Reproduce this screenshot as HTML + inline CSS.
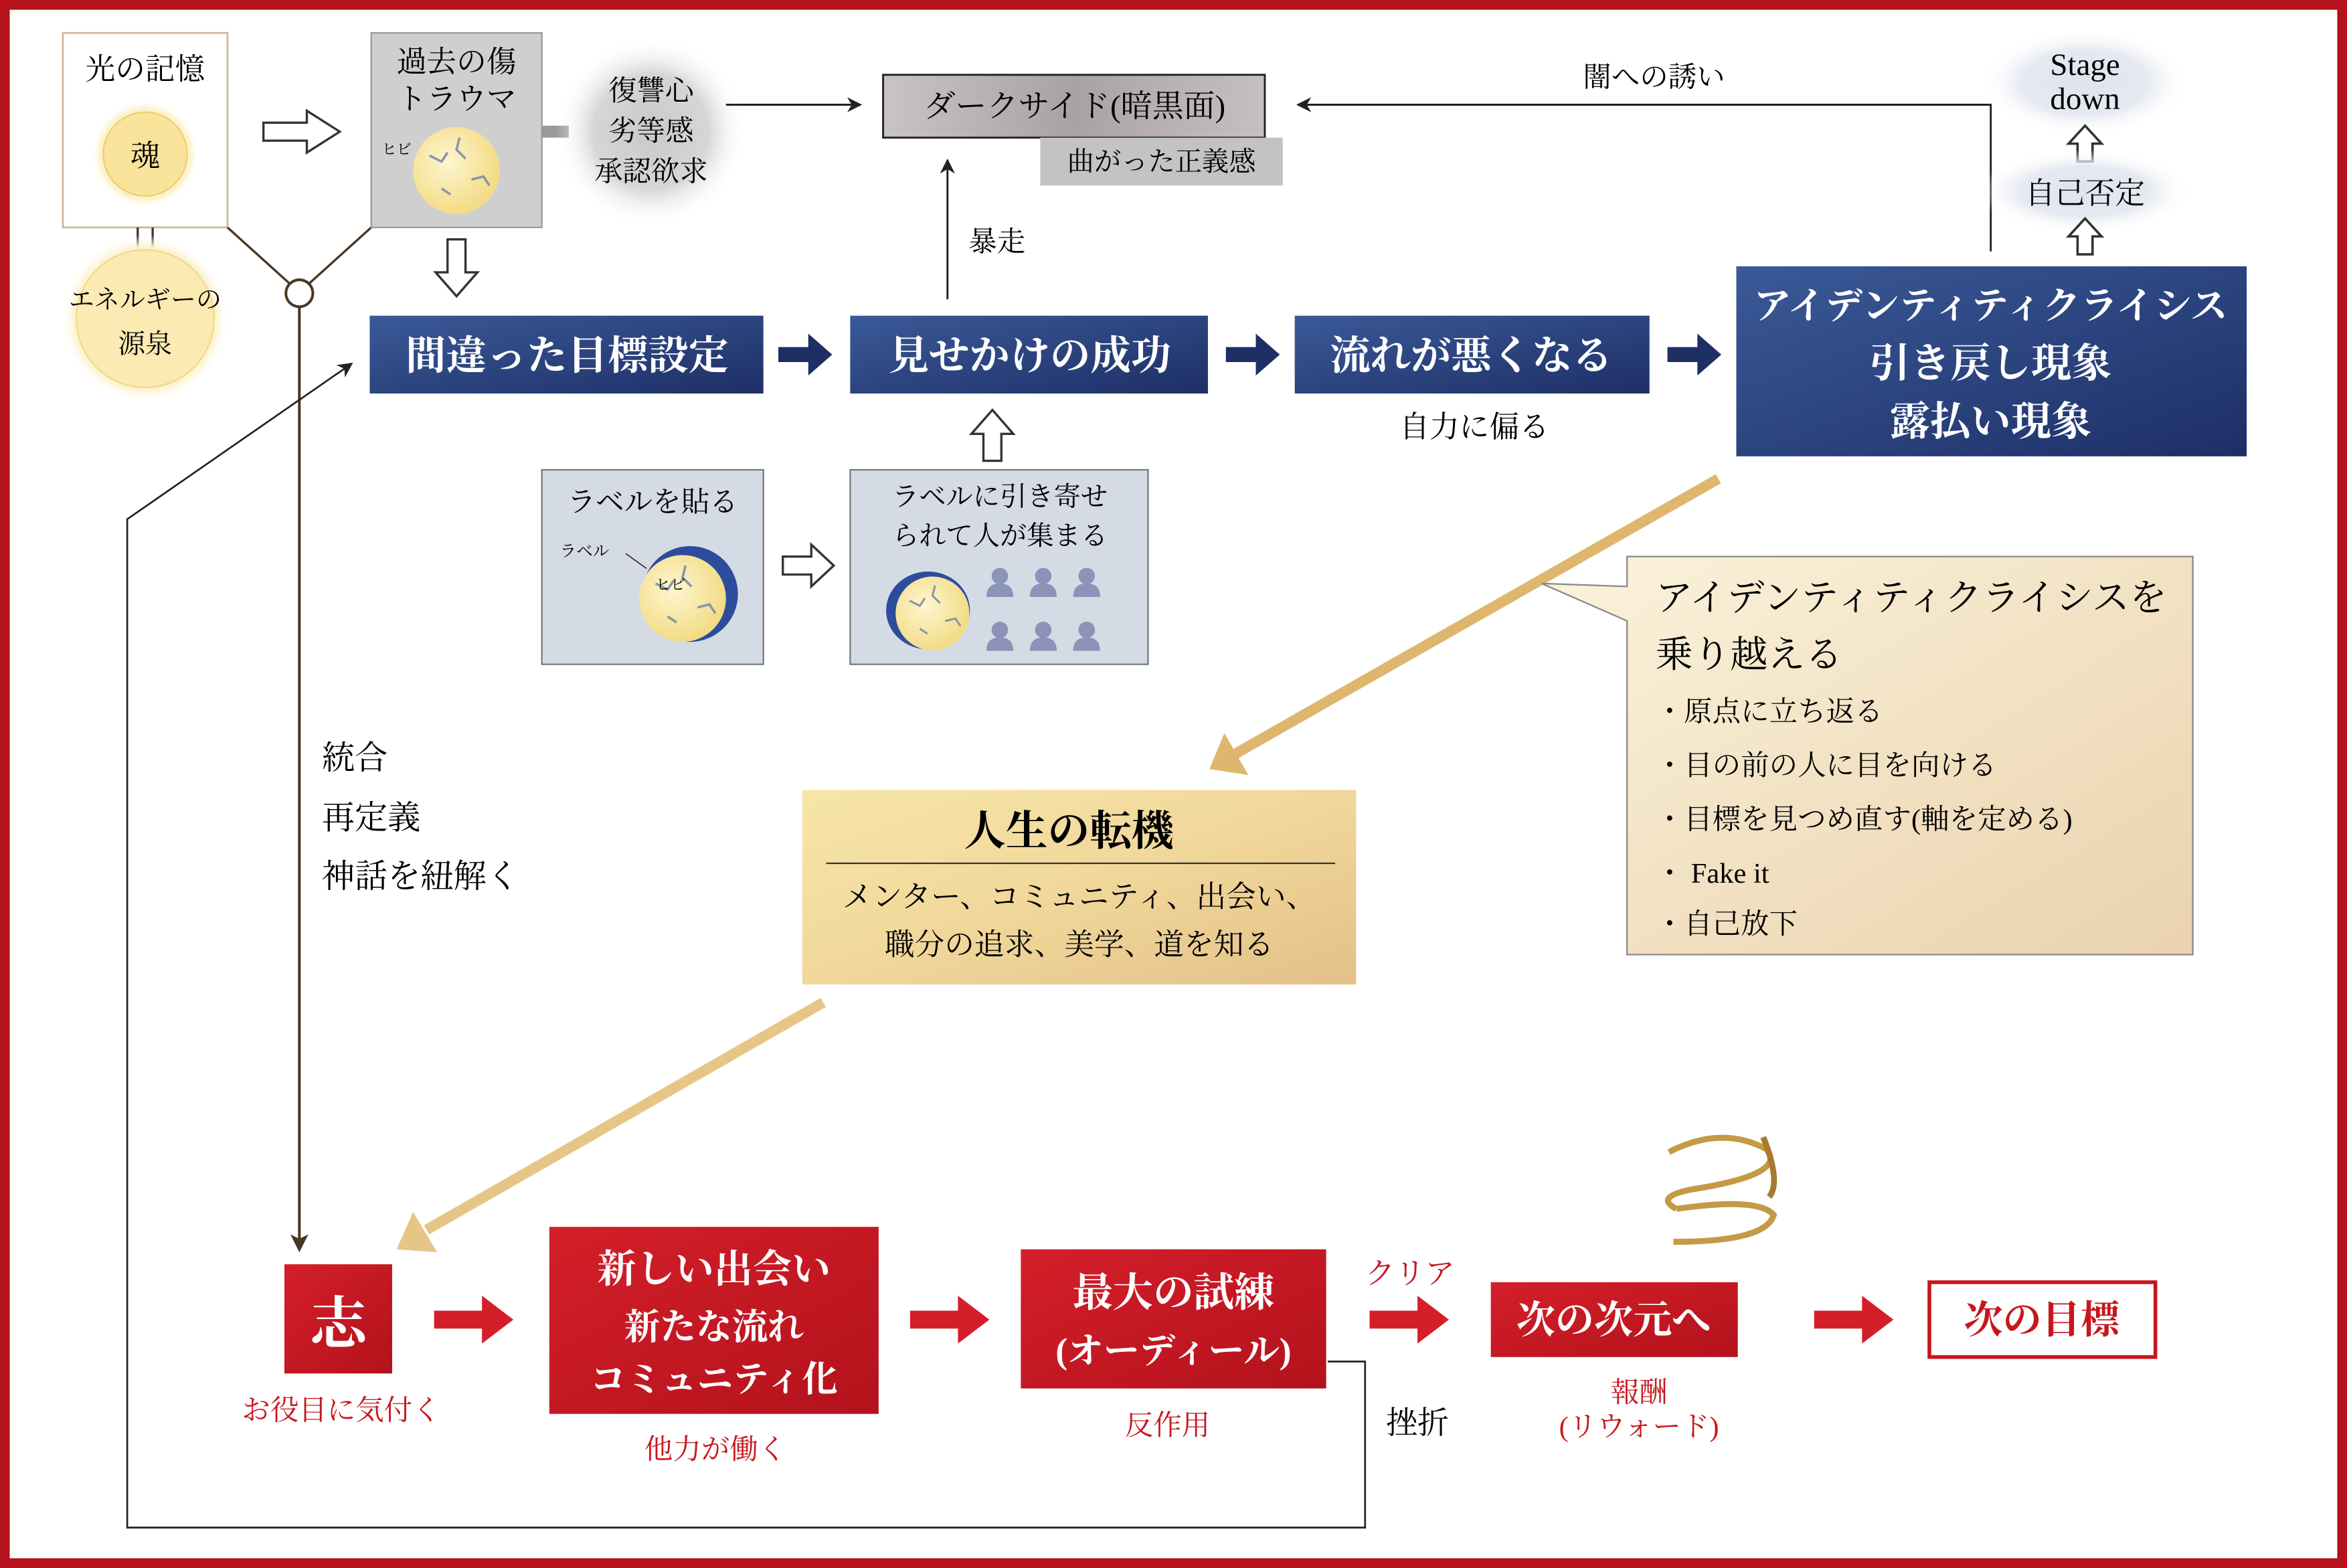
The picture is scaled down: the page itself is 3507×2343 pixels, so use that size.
<!DOCTYPE html>
<html><head><meta charset="utf-8">
<style>
html,body{margin:0;padding:0;background:#fff}
svg{display:block}
text{font-family:"Liberation Serif","Noto Serif CJK JP","Noto Serif CJK SC",serif}
</style></head><body>
<svg width="3507" height="2343" viewBox="0 0 1568 1048" preserveAspectRatio="none" xmlns="http://www.w3.org/2000/svg">
<defs>
<radialGradient id="glow" cx="50%" cy="50%" r="50%">
<stop offset="0" stop-color="#fbe9a8"/><stop offset="0.6" stop-color="#fbeab0"/><stop offset="0.85" stop-color="#fdf3d0"/><stop offset="1" stop-color="#fff" stop-opacity="0"/></radialGradient>
<radialGradient id="cloud" cx="50%" cy="50%" r="50%">
<stop offset="0" stop-color="#c9c9c9"/><stop offset="0.6" stop-color="#d6d6d6"/><stop offset="1" stop-color="#fff" stop-opacity="0"/></radialGradient>
<radialGradient id="cloudb" cx="50%" cy="50%" r="50%">
<stop offset="0" stop-color="#dfe3ee"/><stop offset="0.6" stop-color="#e6e9f1"/><stop offset="1" stop-color="#fff" stop-opacity="0"/></radialGradient>
<radialGradient id="moon" cx="40%" cy="40%" r="60%">
<stop offset="0" stop-color="#fdf6d0"/><stop offset="1" stop-color="#f3dc86"/></radialGradient>
<linearGradient id="blue" x1="0" y1="0" x2="1" y2="1">
<stop offset="0" stop-color="#3a5a98"/><stop offset="1" stop-color="#1e2f66"/></linearGradient>
<linearGradient id="dark" x1="0" y1="0" x2="1" y2="0">
<stop offset="0" stop-color="#c9c4c4"/><stop offset="0.5" stop-color="#a9a2a2"/><stop offset="1" stop-color="#c6c1c1"/></linearGradient>
<linearGradient id="gold" x1="0" y1="0" x2="1" y2="1">
<stop offset="0" stop-color="#f7e6a8"/><stop offset="0.5" stop-color="#f1d79a"/><stop offset="1" stop-color="#e3c088"/></linearGradient>
<linearGradient id="cream" x1="0" y1="0" x2="1" y2="1">
<stop offset="0" stop-color="#fbf3dc"/><stop offset="1" stop-color="#ead2ad"/></linearGradient>
<linearGradient id="red" x1="0" y1="0" x2="1" y2="1">
<stop offset="0" stop-color="#d41f2a"/><stop offset="1" stop-color="#b3121c"/></linearGradient>
<marker id="ah" markerWidth="10" markerHeight="10" refX="9" refY="5" orient="auto" markerUnits="userSpaceOnUse">
<path d="M0,0 L10,5 L0,10 L3,5 Z" fill="#222"/></marker>
<marker id="ahb" markerWidth="12" markerHeight="12" refX="10" refY="6" orient="auto" markerUnits="userSpaceOnUse">
<path d="M0,0 L12,6 L0,12 L3,6 Z" fill="#4a3722"/></marker>
<g id="moonc">
<circle r="29" fill="url(#moon)"/>
<path d="M-18,-10 l8,4 l4,-6 M2,-22 l-2,8 l6,6 M10,6 l8,-2 l4,6 M-10,12 l6,4" stroke="#8a96a8" stroke-width="1.6" fill="none"/>
</g>
<g id="person"><circle cx="0" cy="-7" r="5.5" fill="#8c93b8"/><path d="M-9,7 Q-9,-2 0,-2 Q9,-2 9,7 Z" fill="#8c93b8"/></g>
<g id="hupf"><path d="M0,-12 L11,0 L5,0 L5,12 L-5,12 L-5,0 L-11,0 Z" fill="#fff" stroke="#333" stroke-width="1.6"/></g>
</defs>

<rect x="0" y="0" width="1568" height="1048" fill="#fff"/>
<rect x="3" y="3" width="1562" height="1042" fill="none" stroke="#b5121b" stroke-width="7"/>

<rect x="42" y="22" width="110" height="130" fill="#fff" stroke="#cbb890" stroke-width="1.2"/>
<text x="97" y="53" font-size="20" text-anchor="middle">光の記憶</text>
<circle cx="97" cy="103" r="36" fill="url(#glow)"/>
<circle cx="97" cy="103" r="28" fill="#fae39a" stroke="#eecf70" stroke-width="1"/>
<text x="97" y="111" font-size="20" text-anchor="middle">魂</text>
<line x1="92" y1="152" x2="92" y2="168" stroke="#4a3722" stroke-width="1.5"/>
<line x1="102" y1="152" x2="102" y2="168" stroke="#4a3722" stroke-width="1.5"/>
<circle cx="97" cy="213" r="56" fill="url(#glow)"/>
<circle cx="97" cy="213" r="46" fill="#fbeab2" stroke="#f2d98a" stroke-width="1"/>
<text x="97" y="206" font-size="17" text-anchor="middle">エネルギーの</text>
<text x="97" y="236" font-size="18" text-anchor="middle">源泉</text>

<line x1="152" y1="152" x2="194" y2="190" stroke="#4a3722" stroke-width="1.5"/>
<line x1="248" y1="152" x2="206" y2="190" stroke="#4a3722" stroke-width="1.5"/>
<line x1="200" y1="205" x2="200" y2="835" stroke="#4a3722" stroke-width="1.8" marker-end="url(#ahb)"/>
<circle cx="200" cy="196" r="9" fill="#fff" stroke="#4a3722" stroke-width="1.8"/>

<path d="M176,82 L205,82 L205,74 L227,88 L205,102 L205,94 L176,94 Z" fill="#fff" stroke="#333" stroke-width="1.5"/>

<rect x="248" y="22" width="114" height="130" fill="#cfcfcf" stroke="#999" stroke-width="1"/>
<text x="305" y="48" font-size="20" text-anchor="middle">過去の傷</text>
<text x="305" y="73" font-size="20" text-anchor="middle">トラウマ</text>
<use href="#moonc" x="305" y="114"/>
<text x="255" y="103" font-size="10">ヒビ</text>

<rect x="362" y="84" width="18" height="8" fill="#999"/>
<circle cx="435" cy="88" r="64" fill="url(#cloud)"/>
<text x="435" y="67" font-size="19" text-anchor="middle">復讐心</text>
<text x="435" y="94" font-size="19" text-anchor="middle">劣等感</text>
<text x="435" y="121" font-size="19" text-anchor="middle">承認欲求</text>
<line x1="485" y1="70" x2="575" y2="70" stroke="#222" stroke-width="1.3" marker-end="url(#ah)"/>

<rect x="590" y="50" width="255" height="42" fill="url(#dark)" stroke="#222" stroke-width="1.3"/>
<text x="718" y="78" font-size="21" text-anchor="middle">ダークサイド(暗黒面)</text>
<rect x="695" y="92" width="162" height="32" fill="#c3c3c3"/>
<text x="776" y="114" font-size="18" text-anchor="middle">曲がった正義感</text>

<line x1="633" y1="200" x2="633" y2="107" stroke="#222" stroke-width="1.3" marker-end="url(#ah)"/>
<text x="666" y="168" font-size="19" text-anchor="middle">暴走</text>

<path d="M299,160 L311,160 L311,182 L319,182 L305,198 L291,182 L299,182 Z" fill="#fff" stroke="#333" stroke-width="1.5"/>

<rect x="247" y="211" width="263" height="52" fill="url(#blue)"/>
<text x="379" y="247" font-size="27" fill="#fff" text-anchor="middle" font-weight="bold">間違った目標設定</text>
<rect x="568" y="211" width="239" height="52" fill="url(#blue)"/>
<text x="688" y="247" font-size="27" fill="#fff" text-anchor="middle" font-weight="bold">見せかけの成功</text>
<rect x="865" y="211" width="237" height="52" fill="url(#blue)"/>
<text x="983" y="247" font-size="27" fill="#fff" text-anchor="middle" font-weight="bold">流れが悪くなる</text>
<rect x="1160" y="178" width="341" height="127" fill="url(#blue)"/>
<text x="1330" y="213" font-size="25" fill="#fff" text-anchor="middle" font-weight="bold">アイデンティティクライシス</text>
<text x="1330" y="252" font-size="27" fill="#fff" text-anchor="middle" font-weight="bold">引き戻し現象</text>
<text x="1330" y="291" font-size="27" fill="#fff" text-anchor="middle" font-weight="bold">露払い現象</text>

<g fill="#1e2f66">
<path d="M520,232 L540,232 L540,223 L556,237 L540,251 L540,242 L520,242 Z"/>
<path d="M819,232 L839,232 L839,223 L855,237 L839,251 L839,242 L819,242 Z"/>
<path d="M1114,232 L1134,232 L1134,223 L1150,237 L1134,251 L1134,242 L1114,242 Z"/>
</g>
<text x="985" y="292" font-size="20" text-anchor="middle">自力に偏る</text>

<polyline points="1330,168 1330,70 867,70" fill="none" stroke="#222" stroke-width="1.3" marker-end="url(#ah)"/>
<text x="1105" y="58" font-size="19" text-anchor="middle">闇への誘い</text>

<ellipse cx="1393" cy="55" rx="70" ry="36" fill="url(#cloudb)"/>
<text x="1393" y="50" font-size="21" text-anchor="middle">Stage</text>
<text x="1393" y="73" font-size="21" text-anchor="middle">down</text>
<use href="#hupf" x="1393" y="96"/>
<ellipse cx="1393" cy="128" rx="72" ry="28" fill="url(#cloudb)"/>
<text x="1393" y="136" font-size="20" text-anchor="middle">自己否定</text>
<use href="#hupf" x="1393" y="158"/>

<rect x="362" y="314" width="148" height="130" fill="#d5dbe5" stroke="#777" stroke-width="1"/>
<text x="436" y="342" font-size="19" text-anchor="middle">ラベルを貼る</text>
<text x="374" y="372" font-size="11">ラベル</text>
<line x1="418" y1="370" x2="432" y2="380" stroke="#333" stroke-width="0.8"/>
<ellipse cx="461" cy="397" rx="32" ry="32" fill="#2d4c9c"/>
<use href="#moonc" x="456" y="400"/>
<text x="438" y="394" font-size="10">ヒビ</text>

<path d="M523,372 L542,372 L542,364 L557,378 L542,392 L542,384 L523,384 Z" fill="#fff" stroke="#333" stroke-width="1.5"/>

<rect x="568" y="314" width="199" height="130" fill="#d5dbe5" stroke="#777" stroke-width="1"/>
<text x="668" y="338" font-size="18" text-anchor="middle">ラベルに引き寄せ</text>
<text x="668" y="364" font-size="18" text-anchor="middle">られて人が集まる</text>
<ellipse cx="620" cy="408" rx="28" ry="26" fill="#2d4c9c"/>
<g transform="translate(623,410) scale(0.85)"><use href="#moonc"/></g>
<use href="#person" x="668" y="392"/><use href="#person" x="697" y="392"/><use href="#person" x="726" y="392"/>
<use href="#person" x="668" y="428"/><use href="#person" x="697" y="428"/><use href="#person" x="726" y="428"/>

<path d="M657,308 L657,290 L649,290 L663,274 L677,290 L669,290 L669,308 Z" fill="#fff" stroke="#333" stroke-width="1.5"/>

<line x1="1148" y1="320" x2="825" y2="504" stroke="#deb66e" stroke-width="7"/>
<path d="M808,514 L818,490 L834,518 Z" fill="#deb66e"/>
<line x1="550" y1="670" x2="285" y2="822" stroke="#e6c586" stroke-width="7"/>
<path d="M265,835 L276,810 L292,837 Z" fill="#e6c586"/>

<path d="M1087,372 L1465,372 L1465,638 L1087,638 L1087,415 L1030,390 L1087,392 Z" fill="url(#cream)" stroke="#888" stroke-width="1"/>
<text x="1106" y="408" font-size="25">アイデンティティクライシスを</text>
<text x="1106" y="446" font-size="25">乗り越える</text>
<text x="1106" y="482" font-size="19">・原点に立ち返る</text>
<text x="1106" y="518" font-size="19">・目の前の人に目を向ける</text>
<text x="1106" y="554" font-size="19">・目標を見つめ直す(軸を定める)</text>
<text x="1106" y="590" font-size="19">・ Fake it</text>
<text x="1106" y="624" font-size="19">・自己放下</text>

<rect x="536" y="528" width="370" height="130" fill="url(#gold)"/>
<text x="714" y="565" font-size="28" text-anchor="middle" font-weight="bold">人生の転機</text>
<line x1="552" y1="577" x2="892" y2="577" stroke="#333" stroke-width="1"/>
<text x="721" y="606" font-size="20" text-anchor="middle">メンター、コミュニティ、出会い、</text>
<text x="721" y="638" font-size="20" text-anchor="middle">職分の追求、美学、道を知る</text>

<text x="215" y="514" font-size="22">統合</text>
<text x="215" y="554" font-size="22">再定義</text>
<text x="215" y="593" font-size="22">神話を紐解く</text>

<polyline points="887,910 912,910 912,1021 85,1021 85,347 235,243" fill="none" stroke="#222" stroke-width="1.2" marker-end="url(#ah)"/>

<rect x="190" y="845" width="72" height="73" fill="url(#red)"/>
<text x="226" y="898" font-size="38" fill="#fff" text-anchor="middle" font-weight="bold">志</text>
<text x="228" y="949" font-size="19" fill="#c8161d" text-anchor="middle">お役目に気付く</text>
<g fill="#d41f2a">
<path d="M290,876 L322,876 L322,866 L343,882 L322,898 L322,888 L290,888 Z"/>
<path d="M608,876 L640,876 L640,866 L661,882 L640,898 L640,888 L608,888 Z"/>
<path d="M915,876 L947,876 L947,866 L968,882 L947,898 L947,888 L915,888 Z"/>
<path d="M1212,876 L1244,876 L1244,866 L1265,882 L1244,898 L1244,888 L1212,888 Z"/>
</g>
<rect x="367" y="820" width="220" height="125" fill="url(#red)"/>
<text x="477" y="857" font-size="26" fill="#fff" text-anchor="middle" font-weight="bold">新しい出会い</text>
<text x="477" y="895" font-size="24" fill="#fff" text-anchor="middle" font-weight="bold">新たな流れ</text>
<text x="477" y="930" font-size="24" fill="#fff" text-anchor="middle" font-weight="bold">コミュニティ化</text>
<text x="478" y="975" font-size="19" fill="#c8161d" text-anchor="middle">他力が働く</text>

<rect x="682" y="835" width="204" height="93" fill="url(#red)"/>
<text x="784" y="873" font-size="27" fill="#fff" text-anchor="middle" font-weight="bold">最大の試練</text>
<text x="784" y="911" font-size="24" fill="#fff" text-anchor="middle" font-weight="bold">(オーディール)</text>
<text x="780" y="959" font-size="19" fill="#c8161d" text-anchor="middle">反作用</text>

<text x="942" y="858" font-size="20" fill="#c8161d" text-anchor="middle">クリア</text>
<text x="947" y="958" font-size="21" text-anchor="middle">挫折</text>

<rect x="996" y="857" width="165" height="50" fill="url(#red)"/>
<text x="1078" y="891" font-size="26" fill="#fff" text-anchor="middle" font-weight="bold">次の次元へ</text>
<text x="1095" y="937" font-size="19" fill="#c8161d" text-anchor="middle">報酬</text>
<text x="1095" y="960" font-size="19" fill="#c8161d" text-anchor="middle">(リウォード)</text>

<rect x="1289" y="857" width="151" height="50" fill="#fff" stroke="#c8161d" stroke-width="2.5"/>
<text x="1364" y="891" font-size="26" fill="#c8161d" text-anchor="middle" font-weight="bold">次の目標</text>

<g fill="none" stroke="#c49a45" stroke-width="4">
<path d="M1115,770 Q1150,752 1180,768"/>
<path d="M1180,768 Q1195,785 1130,795 Q1105,800 1120,808"/>
<path d="M1120,808 Q1175,800 1185,812 Q1180,830 1118,830"/>
<path d="M1178,760 Q1190,790 1182,800" stroke="#a87a2e"/>
</g>
</svg>
</body></html>
